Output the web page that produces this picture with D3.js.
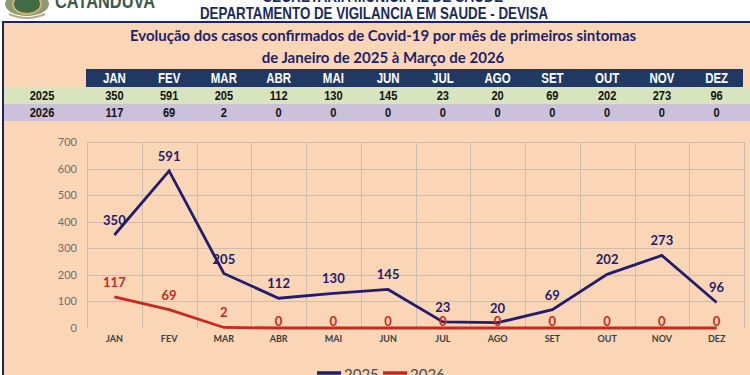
<!DOCTYPE html>
<html>
<head>
<meta charset="utf-8">
<script src="https://cdn.jsdelivr.net/npm/d3@7"></script>
<style>
  body { margin: 0; background: #fff; }
  svg { display: block; }
</style>
</head>
<body>
<div id="chart"></div>
<script>
// data
const months = ["JAN", "FEV", "MAR", "ABR", "MAI", "JUN", "JUL", "AGO", "SET", "OUT", "NOV", "DEZ"];
const cases2025 = [350, 591, 205, 112, 130, 145, 23, 20, 69, 202, 273, 96];
const cases2026 = [117, 69, 2, 0, 0, 0, 0, 0, 0, 0, 0, 0];
const yTicks = [0, 100, 200, 300, 400, 500, 600, 700];
const seriesNames = ["2025", "2026"];

const W = 750, H = 375;
const navy = "#1F3864", lineBlue = "#221C6E", lineRed = "#C9281D";
const peach = "#FBD6B6";
const sans = "'Liberation Sans', Arial, sans-serif";
const calibri = "Lato, 'Open Sans', sans-serif";

const svg = d3.select("#chart").append("svg")
    .attr("width", W)
    .attr("height", H);

svg.append("rect").attr("width", W).attr("height", H).attr("fill", "#fff");

// narrow bold text (Arial Narrow look) by squeezing Liberation Sans
function narrowText(sel, size) {
    return sel.style("font-family", sans).style("font-weight", "bold")
        .style("font-size", size + "px")
        .attr("text-anchor", "middle");
}
function squeeze(g, px, py, k) {
    return g.append("g").attr("transform", `translate(${px},${py}) scale(${k},1)`);
}

// --- top header (cut off at top in the original) ---
const logo = svg.append("g").attr("transform", "translate(27,4)");
logo.append("ellipse").attr("rx", 22).attr("ry", 12).attr("fill", "#8C9A72");
logo.append("ellipse").attr("rx", 14).attr("ry", 10).attr("fill", "#3F6B45").attr("stroke", "#C9B26A").attr("stroke-width", 2);
logo.append("path").attr("d", "M-18,10 Q0,18 18,10").attr("fill", "none").attr("stroke", "#B7A98A").attr("stroke-width", 2);

svg.append("text")
    .attr("x", 55).attr("y", 8)
    .attr("textLength", 100).attr("lengthAdjust", "spacingAndGlyphs")
    .style("font-family", sans)
    .style("font-weight", "bold").style("font-size", "20px")
    .attr("fill", "#3C5B49")
    .text("CATANDUVA");

svg.append("text")
    .attr("x", 383).attr("y", 1.5).attr("text-anchor", "middle")
    .attr("textLength", 240).attr("lengthAdjust", "spacingAndGlyphs")
    .style("font-family", sans).style("font-weight", "bold").style("font-size", "16px")
    .attr("fill", "#1B2A5A")
    .text("SECRETARIA MUNICIPAL DE SAUDE");

svg.append("text")
    .attr("x", 374).attr("y", 19).attr("text-anchor", "middle")
    .attr("textLength", 348).attr("lengthAdjust", "spacingAndGlyphs")
    .style("font-family", sans).style("font-weight", "bold").style("font-size", "16.5px")
    .attr("fill", "#1B2A5A")
    .text("DEPARTAMENTO DE VIGILANCIA EM SAUDE - DEVISA");

// --- framed panel ---
svg.append("rect")
    .attr("x", 3).attr("y", 22).attr("width", W + 20).attr("height", H)
    .attr("fill", peach).attr("stroke", "#1E2366").attr("stroke-width", 2);

const titleStyle = t => t
    .attr("text-anchor", "middle")
    .style("font-family", calibri).style("font-weight", "bold").style("font-size", "15px")
    .attr("fill", "#1E1F6B");

svg.append("text").attr("x", 383).attr("y", 41)
    .call(titleStyle)
    .text("Evolução dos casos confirmados de Covid-19 por mês de primeiros sintomas");
svg.append("text").attr("x", 383).attr("y", 63)
    .call(titleStyle)
    .text("de Janeiro de 2025 à Março de 2026");

// shared month scale for table and chart
const x = d3.scaleBand().domain(months).range([87, 744]);
const cx = m => x(m) + x.bandwidth() / 2;

// --- table ---
svg.append("rect").attr("x", x.range()[0] - 1).attr("y", 69)
    .attr("width", x.range()[1] - x.range()[0]).attr("height", 18).attr("fill", navy);
svg.append("rect").attr("x", 4).attr("y", 87).attr("width", W).attr("height", 17).attr("fill", "#D8E4BD");
svg.append("rect").attr("x", 4).attr("y", 104).attr("width", W).attr("height", 17).attr("fill", "#CCC1DA");

const head = svg.append("g");
months.forEach(m => {
    squeeze(head, cx(m), 83, 0.82).append("text")
        .call(narrowText, 14).attr("fill", "#fff").text(m);
});

const rows = [
    { name: seriesNames[0], values: cases2025, y: 100 },
    { name: seriesNames[1], values: cases2026, y: 117 }
];
rows.forEach(r => {
    const g = svg.append("g").attr("fill", "#111");
    squeeze(g, 42, r.y, 0.82).append("text").call(narrowText, 13.5).text(r.name);
    r.values.forEach((v, i) => {
        squeeze(g, cx(months[i]), r.y, 0.82).append("text").call(narrowText, 13.5).text(v);
    });
});

// --- chart ---
const y = d3.scaleLinear().domain([0, 700]).range([328, 142]);

const grid = svg.append("g").attr("stroke", "#CDBDAC").attr("stroke-width", 1);
grid.selectAll("line.h").data(yTicks.slice(1)).join("line").attr("class", "h")
    .attr("x1", x.range()[0]).attr("x2", x.range()[1])
    .attr("y1", d => Math.round(y(d)) + 0.5).attr("y2", d => Math.round(y(d)) + 0.5);
grid.selectAll("line.v").data(months.concat(["end"])).join("line").attr("class", "v")
    .attr("x1", (d, i) => Math.round(x.range()[0] + i * x.step()) + 0.5)
    .attr("x2", (d, i) => Math.round(x.range()[0] + i * x.step()) + 0.5)
    .attr("y1", y(700)).attr("y2", y(0));

const yAxis = svg.append("g")
    .attr("transform", `translate(${x.range()[0]},0)`)
    .call(d3.axisLeft(y).tickValues(yTicks).tickSize(0).tickPadding(10));
yAxis.select(".domain").remove();
yAxis.selectAll("text")
    .style("font-family", calibri).style("font-size", "11px").attr("fill", "#6E6E6E");

const xAxis = svg.append("g")
    .attr("transform", `translate(0,${y(0)})`)
    .call(d3.axisBottom(x).tickSize(0).tickPadding(8));
xAxis.select(".domain").remove();
xAxis.selectAll("text")
    .style("font-family", calibri).style("font-weight", "bold").style("font-size", "9px").attr("fill", "#3E3E3E");

const series = [
    { name: seriesNames[1], values: cases2026, color: lineRed },
    { name: seriesNames[0], values: cases2025, color: lineBlue }
];
const line = d3.line()
    .x((d, i) => cx(months[i]))
    .y(d => y(d));

series.forEach(s => {
    svg.append("path").datum(s.values)
        .attr("d", line)
        .attr("fill", "none").attr("stroke", s.color).attr("stroke-width", 2.8)
        .attr("stroke-linejoin", "miter");
});
series.forEach(s => {
    svg.append("g").selectAll("text").data(s.values).join("text")
        .attr("x", (d, i) => cx(months[i]))
        .attr("y", d => y(d) - (d === 0 ? 2 : 10))
        .attr("text-anchor", "middle")
        .style("font-family", calibri).style("font-weight", "bold").style("font-size", "13px")
        .attr("fill", s.color)
        .text(d => d);
});

// --- legend ---
const legend = svg.append("g").selectAll("g")
    .data([{ name: seriesNames[0], color: lineBlue }, { name: seriesNames[1], color: lineRed }])
    .join("g")
    .attr("transform", (d, i) => `translate(${317 + i * 66},0)`);
legend.append("line")
    .attr("x1", 0).attr("x2", 24).attr("y1", 373).attr("y2", 373)
    .attr("stroke", d => d.color).attr("stroke-width", 3.5);
legend.append("text")
    .attr("x", 27).attr("y", 380)
    .style("font-family", calibri).style("font-size", "15px").attr("fill", "#4A4A4A")
    .text(d => d.name);
</script>
</body>
</html>
